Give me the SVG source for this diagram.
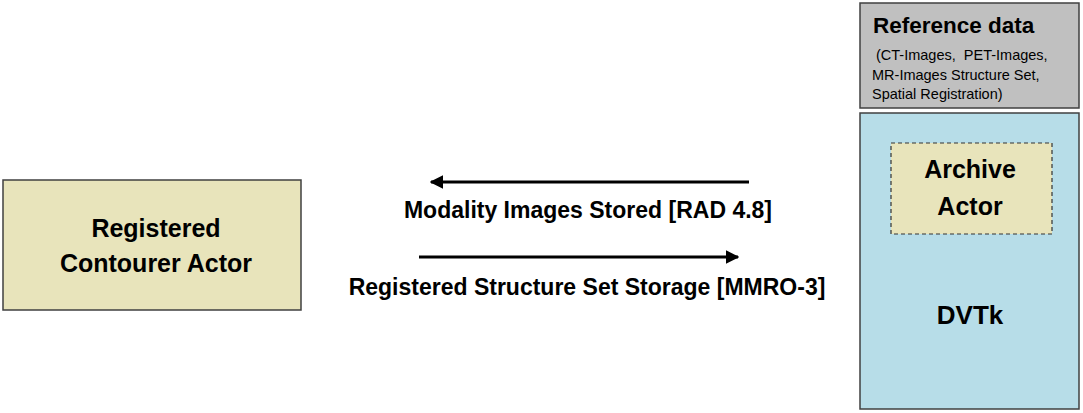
<svg xmlns="http://www.w3.org/2000/svg" width="1083" height="413" viewBox="0 0 1083 413">
<style>
.t{font-family:"Liberation Sans",Arial,sans-serif;font-weight:bold;fill:#000}
.n{font-family:"Liberation Sans",Arial,sans-serif;font-weight:normal;fill:#000;font-size:14.5px}
.c{text-anchor:middle}
.box{stroke:#404040;stroke-width:1.5}
.conn{stroke:#000;stroke-width:3;fill:none}
</style>
<defs>
<marker id="ah" viewBox="0 0 10 10" refX="9" refY="5" markerWidth="4.5" markerHeight="4.5" markerUnits="strokeWidth" orient="auto">
<path d="M0,0 L10,5 L0,10 z" fill="#000"/>
</marker>
</defs>
<rect width="1083" height="413" fill="#fff"/>
<g id="ref-data">
<rect class="box" x="860" y="3" width="219" height="105" fill="#c0c0c0"/>
<text class="t" x="873" y="33" font-size="22.5">Reference data</text>
<text class="n" x="876" y="60" xml:space="preserve">(CT-Images,  PET-Images,</text>
<text class="n" x="872" y="80">MR-Images Structure Set,</text>
<text class="n" x="872" y="99">Spatial Registration)</text>
</g>
<g id="dvtk">
<rect class="box" x="860" y="113" width="219" height="296" fill="#b7dde8"/>
<text class="t c" x="970" y="324" font-size="26">DVTk</text>
</g>
<g id="archive">
<rect x="891" y="143" width="161" height="91" fill="#e8e4bb" stroke="#333" stroke-width="1.2" stroke-dasharray="4,3"/>
<text class="t c" x="970" y="178" font-size="25">Archive</text>
<text class="t c" x="970" y="215" font-size="25">Actor</text>
</g>
<g id="contourer">
<rect class="box" x="3" y="180" width="298" height="130" fill="#e8e4bb"/>
<text class="t c" x="156" y="237" font-size="25">Registered</text>
<text class="t c" x="156" y="272" font-size="25">Contourer Actor</text>
</g>
<g id="connectors">
<line class="conn" x1="749" y1="182" x2="431" y2="182" marker-end="url(#ah)"/>
<text class="t c" x="588" y="218" font-size="23">Modality Images Stored [RAD 4.8]</text>
<line class="conn" x1="419" y1="257" x2="738" y2="257" marker-end="url(#ah)"/>
<text class="t c" x="587" y="295" font-size="23">Registered Structure Set Storage [MMRO-3]</text>
</g>
</svg>
